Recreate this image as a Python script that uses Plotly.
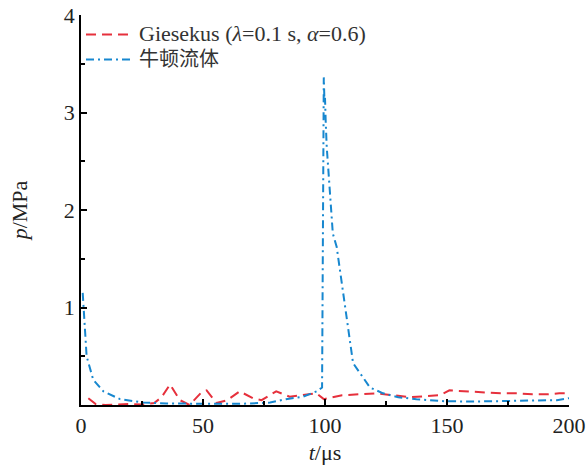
import plotly.graph_objects as go

# Newtonian fluid (牛顿流体)
blue_t = [0.7, 2.3, 5, 9.2, 16, 25.5, 35, 50, 65, 77.5, 84, 91, 96.6, 98.8,
          99.5, 99.8, 100.0, 100.3, 100.7, 103.2, 104.8, 111.5, 118.4, 123.8,
          130, 137.5, 148, 160, 172, 185, 195, 200]
blue_p = [1.15, 0.5, 0.26, 0.14, 0.06, 0.025, 0.015, 0.01, 0.012, 0.025, 0.06, 0.085, 0.14, 0.18,
          3.36, 3.1, 3.15, 2.9, 2.65, 1.76, 1.62, 0.43, 0.18, 0.12,
          0.08, 0.06, 0.04, 0.035, 0.04, 0.04, 0.05, 0.07]

# Giesekus
red_t = [3, 6, 10, 15, 20, 25, 30, 33, 36.5, 40.5, 44.5, 49, 51.5, 55.5, 60, 65, 70.5, 74,
         80, 85.5, 90, 96.5, 99.5, 103, 107, 114, 121, 128, 135, 141, 147, 151, 158, 165,
         172, 179, 185, 191, 196, 200]
red_p = [0.07, 0.01, 0.0, 0.005, 0.01, 0.005, 0.02, 0.08, 0.21, 0.05, 0.0, 0.12, 0.15, 0.02,
         0.05, 0.14, 0.07, 0.05, 0.14, 0.085, 0.1, 0.12, 0.06, 0.08, 0.1, 0.11, 0.12, 0.1,
         0.08, 0.09, 0.1, 0.15, 0.14, 0.13, 0.12, 0.12, 0.11, 0.11, 0.12, 0.12]

x_ticks = [0, 50, 100, 150, 200]
y_ticks = [1, 2, 3, 4]

RED = "#e6303c"
BLUE = "#1787cf"
FONT = "Liberation Serif"
FS = 22

fig = go.Figure()
fig.add_trace(go.Scatter(
    x=red_t, y=red_p, mode="lines",
    name="<span style='font-size:22px'>Giesekus (<i>λ</i>=0.1 s, <i>α</i>=0.6)</span>",
    line=dict(color=RED, width=2, dash="10px,6px"),
))
fig.add_trace(go.Scatter(
    x=blue_t, y=blue_p, mode="lines",
    name="<span style='font-family:Noto Sans CJK SC;font-size:20px'>牛顿流体</span>",
    line=dict(color=BLUE, width=2, dash="8px,4px,2px,4px"),
))

fig.update_layout(
    width=586, height=472,
    margin=dict(l=81, r=17, t=15, b=67, autoexpand=False),
    paper_bgcolor="white", plot_bgcolor="white",
    font=dict(family=FONT, size=FS, color="#222"),
    showlegend=True,
    legend=dict(x=0.0, y=0.995, xanchor="left", yanchor="top",
                bgcolor="rgba(0,0,0,0)", font=dict(family=FONT, size=17, color="#333"),
                itemwidth=48, tracegroupgap=0),
    xaxis=dict(
        range=[0, 200], tickvals=x_ticks, ticks="inside", ticklen=6, tickwidth=1.5,
        tickcolor="black", showline=True, linecolor="black", linewidth=1.5,
        showgrid=False, zeroline=False, mirror=False, automargin=False,
        minor=dict(dtick=25, ticks="inside", ticklen=4, tickcolor="black", tickwidth=1.5, showgrid=False),
        title=dict(text="<i>t</i>/μs", font=dict(family=FONT, size=FS), standoff=7),
        tickfont=dict(family=FONT, size=FS, color="#222"),
    ),
    yaxis=dict(
        range=[0, 4], tickvals=y_ticks, ticks="inside", ticklen=6, tickwidth=1.5,
        tickcolor="black", showline=True, linecolor="black", linewidth=1.5,
        showgrid=False, zeroline=False, mirror=False, automargin=False,
        minor=dict(dtick=0.5, ticks="inside", ticklen=4, tickcolor="black", tickwidth=1.5, showgrid=False),
        title=dict(text="<i>p</i>/MPa", font=dict(family=FONT, size=FS), standoff=30),
        tickfont=dict(family=FONT, size=FS, color="#222"),
    ),
)

fig.write_html("out.html")
